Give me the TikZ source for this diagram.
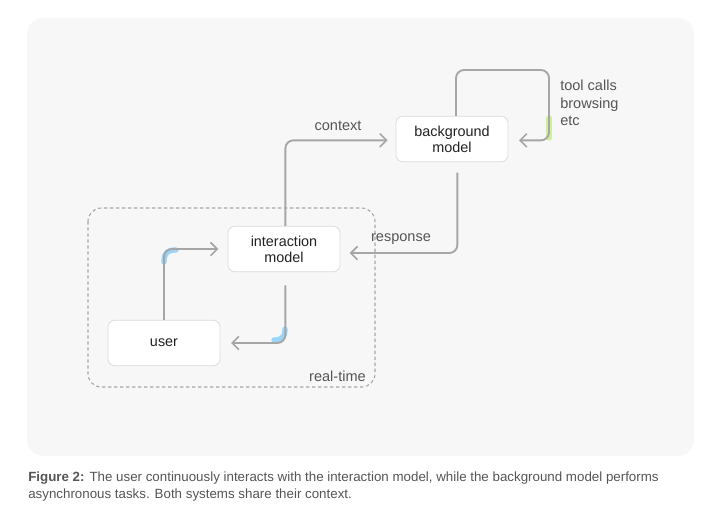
\documentclass[tikz,border=0pt]{standalone}
\usepackage{fontspec}
\setmainfont{Liberation Sans}
\usetikzlibrary{arrows.meta}
\definecolor{panelgray}{HTML}{F7F7F7}
\definecolor{linegray}{HTML}{A6A6A6}
\definecolor{boxedge}{HTML}{DDDDDD}
\definecolor{textgray}{HTML}{222222}
\definecolor{labelgray}{HTML}{555555}
\definecolor{hlblue}{HTML}{8ACFF7}
\definecolor{hlgreen}{HTML}{C9EE8C}
\tikzset{
  modelbox/.style={draw=boxedge, fill=white, rounded corners=5pt, line width=0.6pt,
    minimum width=84pt, minimum height=34pt, align=center, text=textgray, font=\fontsize{10.8}{12.2}\selectfont},
  flow/.style={draw=linegray, line width=1.4pt, rounded corners=6pt,
    -{Straight Barb[length=5pt,width=10pt,line width=1.2pt]}},
  lbl/.style={text=labelgray, font=\fontsize{10.9}{13}\selectfont, inner sep=0pt},
  glow/.style={line width=4pt, line cap=round, opacity=0.85}
}
\begin{document}
\begin{tikzpicture}[x=0.75pt, y=-0.75pt, line join=round]
  \useasboundingbox (0,0) rectangle (720,522);
  % panel
  \fill[panelgray, rounded corners=12pt] (27,18) rectangle (694,456);
  % real-time region
  \draw[linegray, line width=0.8pt, dash pattern=on 2.5pt off 2pt, rounded corners=10pt] (88,208) rectangle (375,387);
  \node[lbl, anchor=base east] (rt) at (366,381) {real-time};
  % models
  \node[modelbox] (inter) at (284,249) {interaction\\model};
  \node[modelbox] (user) at (164,343) {user};
  \node[modelbox] (bg) at (452,139) {background\\model};
  \coordinate (loop) at (549,70);
  % highlights at the corners
  \draw[glow, hlblue] (164,262) .. controls (164,252) and (168,250) .. (176,250);
  \draw[glow, hlblue] (285,329) .. controls (285,337) and (282,340) .. (274,340);
  \draw[glow, hlgreen] (549,118) -- (549,138);
  % connectors
  \draw[flow, shorten >=7pt] (user.north) |- (inter.west);
  \draw[flow, shorten <=10pt, shorten >=8pt] ([xshift=1pt]inter.south) |- (user.east);
  \draw[flow, shorten >=6pt] ([xshift=1pt]inter.north) |- ([yshift=-1pt]bg.west);
  \draw[flow, shorten <=8pt, shorten >=7pt] ([xshift=4pt]bg.south) |- ([yshift=-3pt]inter.east);
  \draw[flow, shorten >=8pt] ([xshift=3pt]bg.north) |- (loop) |- ([yshift=-1pt]bg.east);
  % labels
  \node[lbl] (ctx) at (338,126) {context};
  \node[lbl] (resp) at (401,239) {response};
  \node[lbl, anchor=north west, align=left] (tools) at (560,80) {tool calls\\browsing\\etc};
  % caption
  \node[anchor=north west, align=left, inner sep=0pt, text=labelgray, font=\fontsize{10}{12.75}\selectfont] (cap) at (28,472)
    {\textbf{Figure 2:} The user continuously interacts with the interaction model, while the background model performs\\
     asynchronous tasks. Both systems share their context.};
\end{tikzpicture}
\end{document}
